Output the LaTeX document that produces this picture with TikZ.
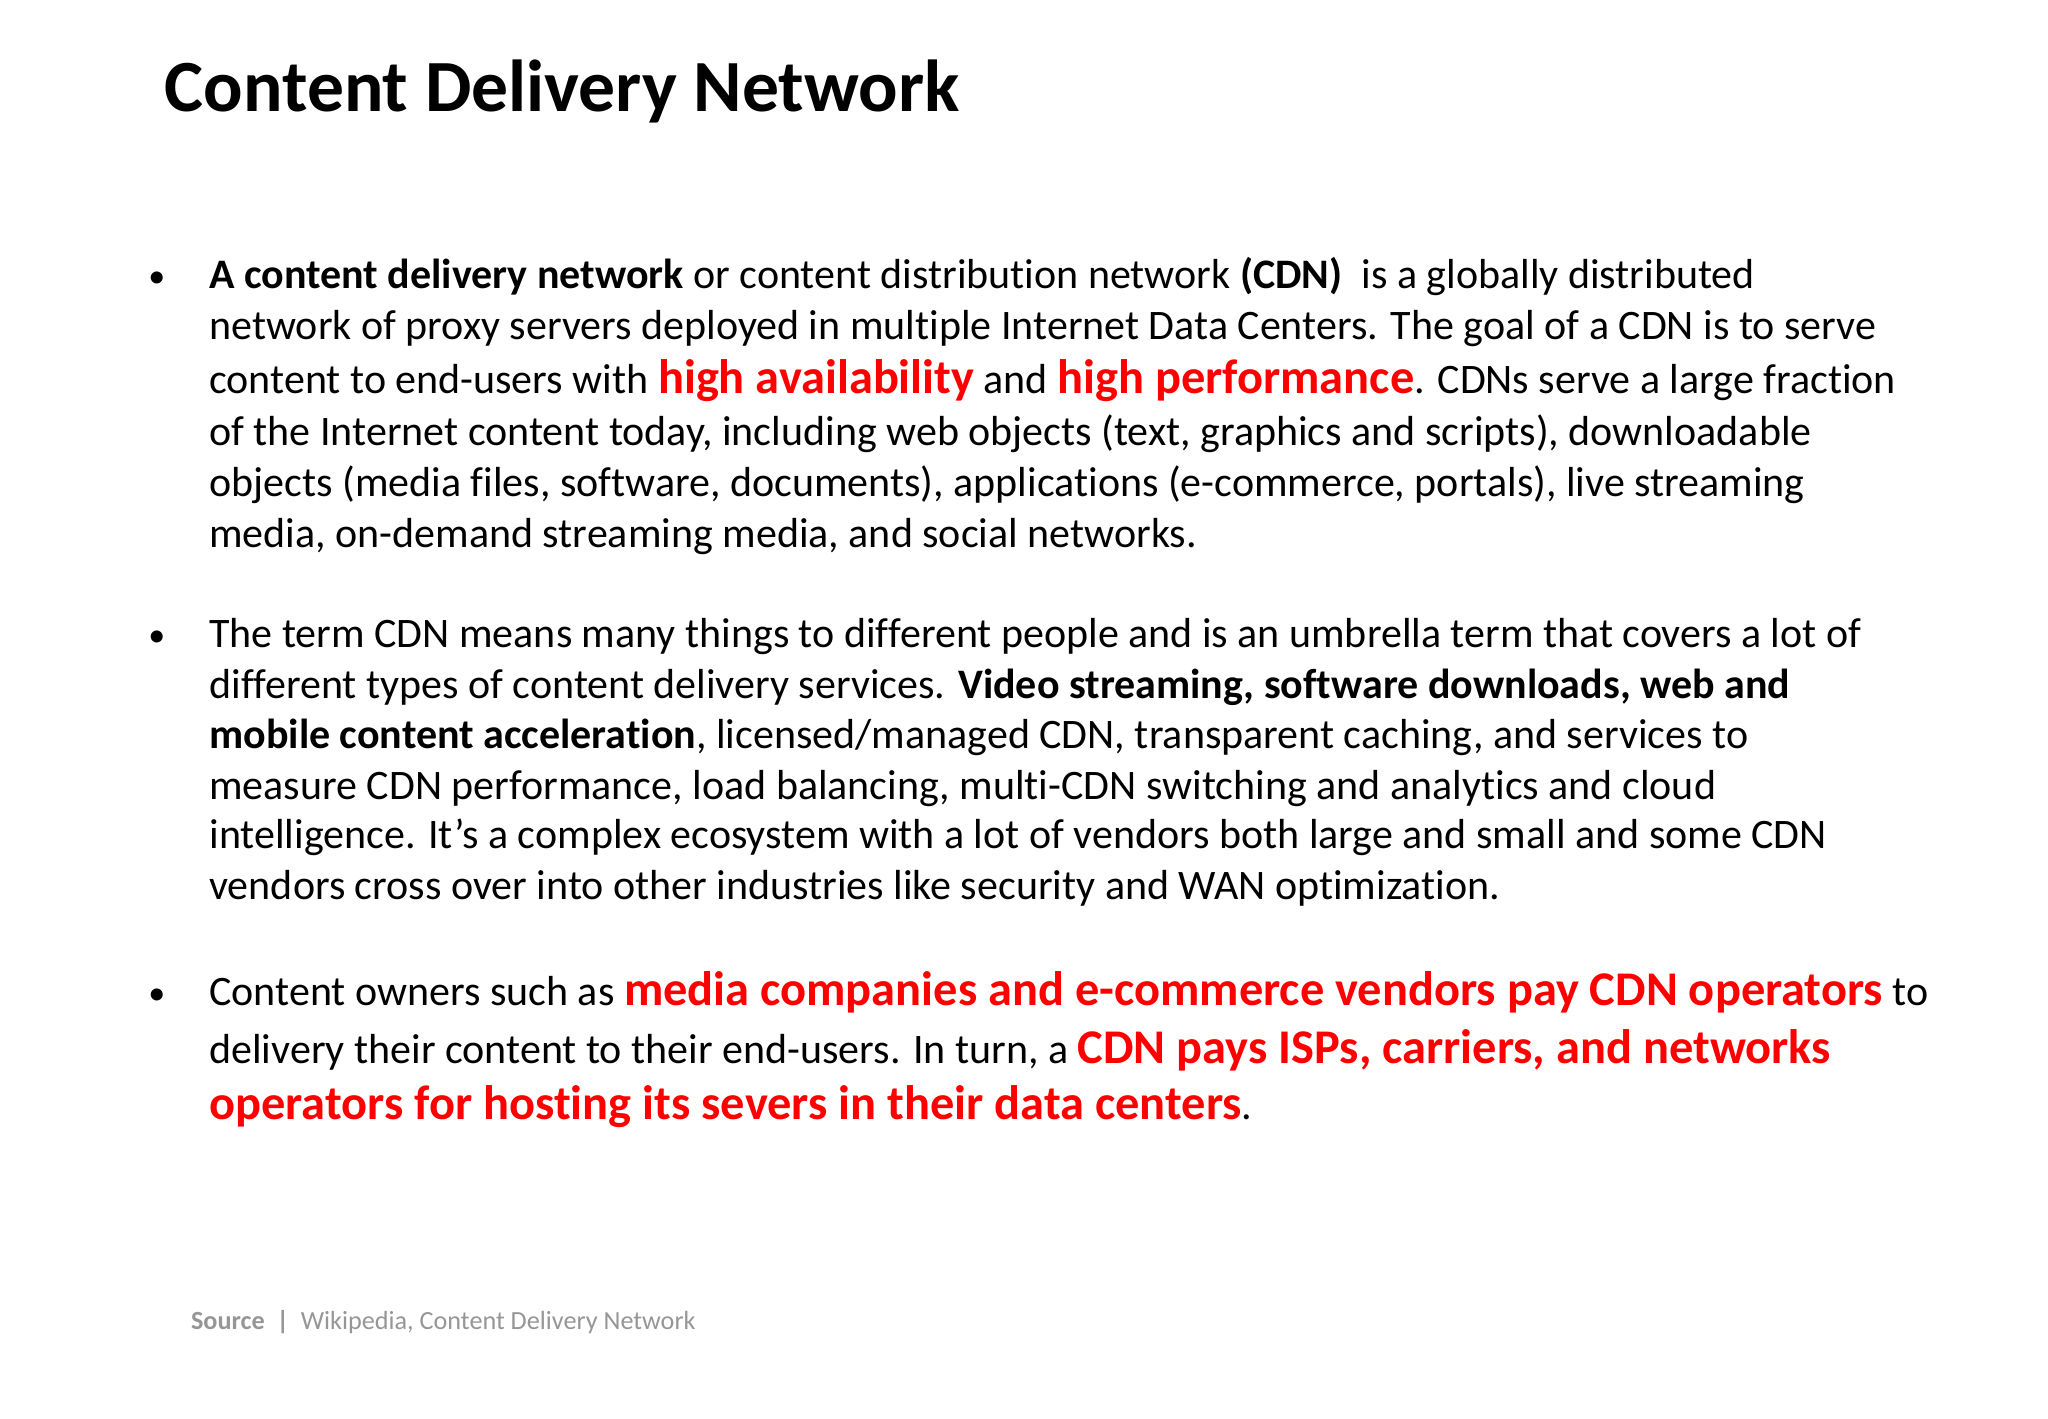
\documentclass[tikz,border=0pt]{standalone}
\usepackage{fontspec}
\setmainfont[RawFeature={-liga;-calt;-dlig}]{Carlito}
\definecolor{cred}{RGB}{255,0,0}
\definecolor{cgrey}{RGB}{150,150,150}
\begin{document}
\begin{tikzpicture}[x=0.653pt,y=-0.653pt,
 ln/.style={anchor=base west,inner sep=0pt,font=\fontsize{21}{24}\selectfont},
 bul/.style={anchor=base,inner sep=0pt,font=\fontsize{17}{20}\selectfont}]
\useasboundingbox[fill=white] (0,0) rectangle (1568,1086);
\newcommand{\R}[1]{{\fontsize{24.2}{28}\selectfont\bfseries\color{cred}#1}}
\node[anchor=base west,inner sep=0pt,font=\fontsize{36.8}{42}\selectfont\bfseries] (title) at (126,85) {Content Delivery Network};
\node[bul] (b1) at (120,220) {•};
\node[ln] (l1) at (160,221) {\textbf{A content delivery network} or content distribution network \textbf{(CDN)}\ \ is a globally distributed};
\node[ln] (l2) at (160,260) {network of proxy servers deployed in multiple Internet Data Centers. The goal of a CDN is to serve};
\node[ln] (l3) at (160,301) {content to end-users with \R{high availability} and \R{high performance}. CDNs serve a large fraction};
\node[ln] (l4) at (160,341) {of the Internet content today, including web objects (text, graphics and scripts), downloadable};
\node[ln] (l5) at (160,380) {objects (media files, software, documents), applications (e-commerce, portals), live streaming};
\node[ln] (l6) at (160,419) {media, on-demand streaming media, and social networks.};
\node[bul] (b2) at (120,495) {•};
\node[ln] (m1) at (160,496) {The term CDN means many things to different people and is an umbrella term that covers a lot of};
\node[ln] (m2) at (160,535) {different types of content delivery services. \textbf{Video streaming, software downloads, web and}};
\node[ln] (m3) at (160,573) {\textbf{mobile content acceleration}, licensed/managed CDN, transparent caching, and services to};
\node[ln] (m4) at (160,612) {measure CDN performance, load balancing, multi-CDN switching and analytics and cloud};
\node[ln] (m5) at (160,650) {intelligence. It’s a complex ecosystem with a lot of vendors both large and small and some CDN};
\node[ln] (m6) at (160,689) {vendors cross over into other industries like security and WAN optimization.};
\node[bul] (b3) at (120,769) {•};
\node[ln] (n1) at (160,770) {Content owners such as \R{media companies and e-commerce vendors pay CDN operators} to};
\node[ln] (n2) at (160,814) {delivery their content to their end-users. In turn, a \R{CDN pays ISPs, carriers, and networks}};
\node[ln] (n3) at (160,857) {\R{operators for hosting its severs in their data centers}.};
\node[anchor=base west,inner sep=0pt,font=\fontsize{13.1}{16}\selectfont,text=cgrey] (src) at (146,1018) {\textbf{Source}\ \ \textbf{|}\ \ Wikipedia, Content Delivery Network};
\end{tikzpicture}
\end{document}
